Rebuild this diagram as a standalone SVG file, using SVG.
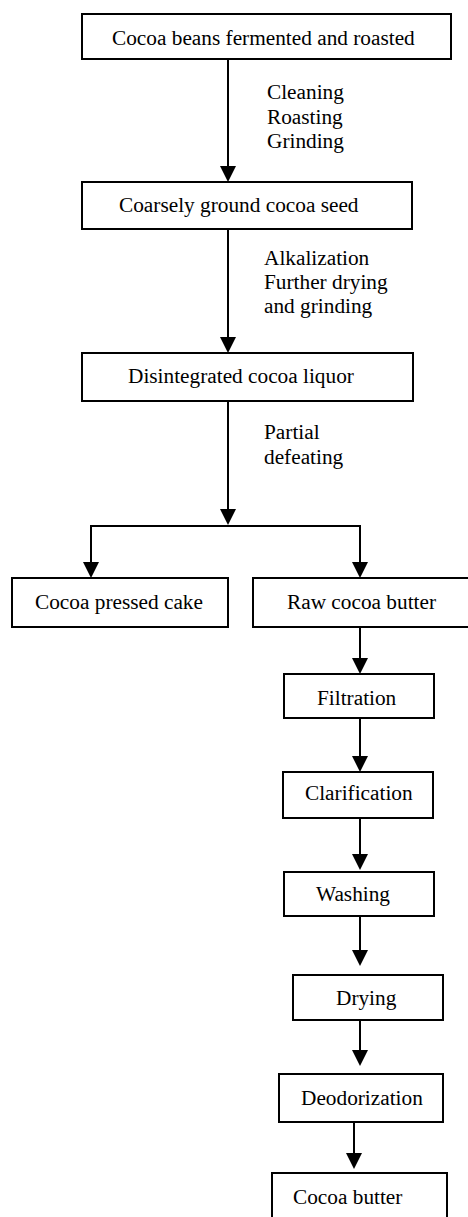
<svg xmlns="http://www.w3.org/2000/svg" width="468" height="1217" viewBox="0 0 468 1217">
<style>
.box{fill:#fff;stroke:#000;stroke-width:2}
.t{font-family:"Liberation Serif","Times New Roman",serif;font-size:21.3px;fill:#000}
.ln{stroke:#000;stroke-width:2;fill:none}
.ah{fill:#000}
</style>
<rect width="468" height="1217" fill="#fff"/>
<g id="connectors">
<line class="ln" x1="228" y1="59" x2="228" y2="167"/><polygon class="ah" points="220,166 236,166 228,182"/>
<line class="ln" x1="228" y1="229" x2="228" y2="338"/><polygon class="ah" points="220,337 236,337 228,353"/>
<line class="ln" x1="228" y1="401" x2="228" y2="510"/><polygon class="ah" points="220,509 236,509 228,525"/>
<polyline class="ln" points="91,563 91,526 360,526 360,563"/>
<polygon class="ah" points="83,562 99,562 91,578"/>
<polygon class="ah" points="352,562 368,562 360,578"/>
<line class="ln" x1="360" y1="627" x2="360" y2="659"/><polygon class="ah" points="352,658 368,658 360,674"/>
<line class="ln" x1="360" y1="718" x2="360" y2="757"/><polygon class="ah" points="352,756 368,756 360,772"/>
<line class="ln" x1="360" y1="818" x2="360" y2="855"/><polygon class="ah" points="352,854 368,854 360,870"/>
<line class="ln" x1="360" y1="916" x2="360" y2="951"/><polygon class="ah" points="352,950 368,950 360,966"/>
<line class="ln" x1="360" y1="1016" x2="360" y2="1051"/><polygon class="ah" points="352,1050 368,1050 360,1066"/>
<line class="ln" x1="354" y1="1117" x2="354" y2="1154"/><polygon class="ah" points="346,1153 362,1153 354,1169"/>
<text class="t" x="267" y="99">Cleaning</text>
<text class="t" x="267" y="123.5">Roasting</text>
<text class="t" x="267" y="148">Grinding</text>
<text class="t" x="264" y="265">Alkalization</text>
<text class="t" x="264" y="289">Further drying</text>
<text class="t" x="264" y="313">and grinding</text>
<text class="t" x="264" y="439">Partial</text>
<text class="t" x="264" y="464">defeating</text>
</g>
<g id="n1"><rect class="box" x="82" y="14" width="369" height="45"/><text class="t" x="112" y="45">Cocoa beans fermented and roasted</text></g>
<g id="n2"><rect class="box" x="82" y="182" width="330" height="47"/><text class="t" x="119" y="212">Coarsely ground cocoa seed</text></g>
<g id="n3"><rect class="box" x="82" y="353" width="331" height="48"/><text class="t" x="128" y="383">Disintegrated cocoa liquor</text></g>
<g id="n4"><rect class="box" x="12" y="578" width="216" height="49"/><text class="t" x="35" y="609">Cocoa pressed cake</text></g>
<g id="n5"><rect class="box" x="253" y="578" width="220" height="49"/><text class="t" x="287" y="609">Raw cocoa butter</text></g>
<g id="n6"><rect class="box" x="284" y="674" width="150" height="44"/><text class="t" x="317" y="705">Filtration</text></g>
<g id="n7"><rect class="box" x="283" y="772" width="150" height="46"/><text class="t" x="305" y="800">Clarification</text></g>
<g id="n8"><rect class="box" x="284" y="872" width="150" height="44"/><text class="t" x="316" y="901">Washing</text></g>
<g id="n9"><rect class="box" x="293" y="975" width="150" height="45"/><text class="t" x="336" y="1005">Drying</text></g>
<g id="n10"><rect class="box" x="279" y="1074" width="164" height="48"/><text class="t" x="301" y="1105">Deodorization</text></g>
<g id="n11"><rect class="box" x="272" y="1173" width="175" height="60"/><text class="t" x="293" y="1204">Cocoa butter</text></g>
</svg>
